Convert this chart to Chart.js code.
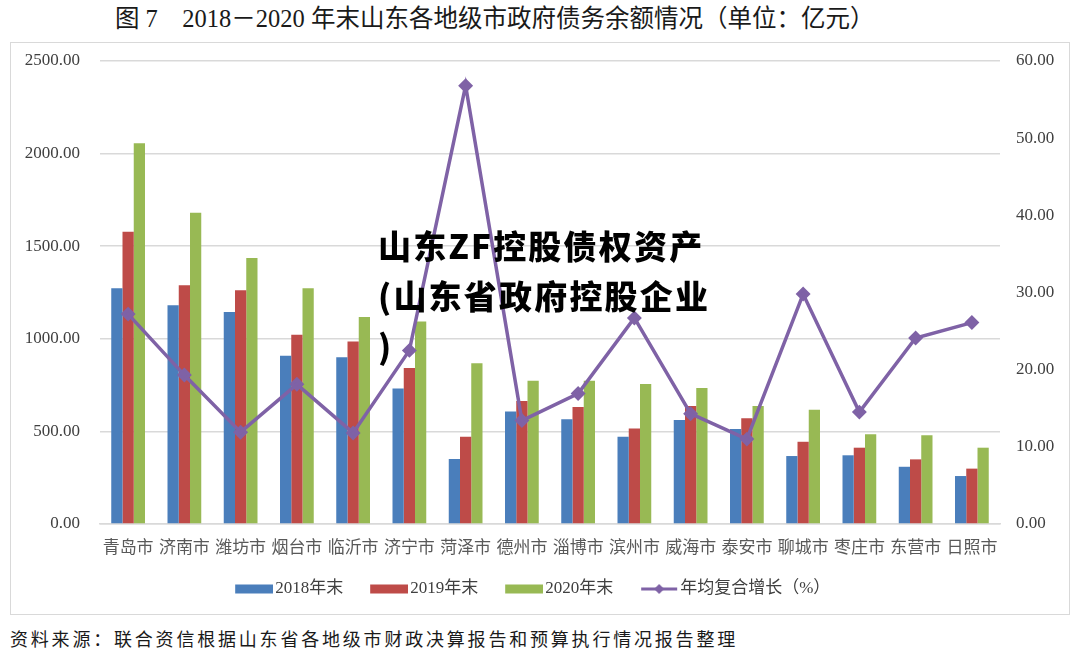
<!DOCTYPE html>
<html>
<head>
<meta charset="utf-8">
<script src="https://cdn.jsdelivr.net/npm/chart.js@4"></script>
<style>
  body { margin: 0; width: 1080px; height: 653px; background: #fff; position: relative; overflow: hidden; }
  .title { position: absolute; left: 115px; top: -1px; font: 24.5px "Liberation Serif", "Noto Sans CJK SC", serif; color: #1a1a1a; white-space: pre; }
  .box { position: absolute; left: 10px; top: 42px; width: 1060px; height: 573px; border: 1px solid #d9d9d9; box-sizing: border-box; }
  .mark { position: absolute; left: 378px; top: 220px; font: 900 33px "Noto Sans CJK SC", sans-serif; color: #000; line-height: 50px; letter-spacing: 2.2px; white-space: pre; }
  .note { position: absolute; left: 10px; top: 625px; font: 18px "Noto Sans CJK SC", serif; color: #1a1a1a; letter-spacing: 2.8px; white-space: pre; }
</style>
</head>
<body>
<div class="title">图 7　2018－2020 年末山东各地级市政府债务余额情况（单位：亿元）</div>
<div class="box"><canvas id="chart"></canvas></div>
<div class="mark">山东ZF控股债权资产
(山东省政府控股企业
)</div>
<div class="note">资料来源：联合资信根据山东省各地级市财政决算报告和预算执行情况报告整理</div>
<script>
const cities = ["青岛市", "济南市", "潍坊市", "烟台市", "临沂市", "济宁市", "菏泽市", "德州市",
  "淄博市", "滨州市", "威海市", "泰安市", "聊城市", "枣庄市", "东营市", "日照市"];
const debt2018 = [1273, 1181, 1145, 909, 900, 731, 351, 607, 565, 471, 562, 513, 367, 371, 309, 259];
const debt2019 = [1578, 1289, 1262, 1022, 986, 842, 471, 664, 632, 515, 637, 571, 444, 412, 349, 299];
const debt2020 = [2056, 1681, 1436, 1273, 1118, 1093, 868, 774, 774, 756, 734, 637, 617, 484, 479, 412];
const growth = [27.2, 19.3, 11.9, 18.1, 11.8, 22.5, 56.8, 13.4, 16.9, 26.7, 14.3, 11.0, 29.8, 14.5, 24.1, 26.1];

const BLUE = "#4a7ebb", RED = "#be4b48", GREEN = "#98b954", PURPLE = "#7f62a6";
const serif = "'Liberation Serif', 'Noto Sans CJK SC', serif";

// legend swatch image: transparent on the left, 38px mark on the right so it sits just before the text
function swatch(color, isLine) {
  const c = document.createElement("canvas");
  c.width = 54; c.height = 12;
  const g = c.getContext("2d");
  const x0 = 54 - 38;
  g.fillStyle = color;
  if (isLine) {
    g.strokeStyle = color; g.lineWidth = 3;
    g.beginPath(); g.moveTo(x0 + 1, 6); g.lineTo(x0 + 37, 6); g.stroke();
    g.beginPath(); g.moveTo(x0 + 19, 1); g.lineTo(x0 + 24, 6); g.lineTo(x0 + 19, 11); g.lineTo(x0 + 14, 6); g.closePath(); g.fill();
  } else {
    g.fillRect(x0, 1.5, 38, 9);
  }
  return c;
}

// nudge the legend row a bit left, like the original
const legendShift = {
  id: "legendShift",
  afterLayout(chart) {
    chart.legend.left -= 12;
    chart.legend.right -= 12;
  }
};

new Chart(document.getElementById("chart"), {
  type: "bar",
  data: {
    labels: cities,
    datasets: [
      { label: "2018年末", data: debt2018, backgroundColor: BLUE, yAxisID: "y", order: 1 },
      { label: "2019年末", data: debt2019, backgroundColor: RED, yAxisID: "y", order: 1 },
      { label: "2020年末", data: debt2020, backgroundColor: GREEN, yAxisID: "y", order: 1 },
      {
        label: "年均复合增长（%）", type: "line", data: growth, yAxisID: "y1", order: 0,
        borderColor: PURPLE, backgroundColor: PURPLE, borderWidth: 3.5, tension: 0,
        pointStyle: "rectRot", pointRadius: 5, pointHoverRadius: 5
      }
    ]
  },
  plugins: [legendShift],
  options: {
    responsive: true,
    maintainAspectRatio: false,
    animation: false,
    layout: { padding: { top: 18, left: 0, right: 0, bottom: 6.5 } },
    datasets: { bar: { categoryPercentage: 0.6, barPercentage: 1.0 } },
    plugins: {
      tooltip: { enabled: false },
      legend: {
        position: "bottom",
        labels: {
          usePointStyle: true,
          pointStyleWidth: 41,
          padding: 17.5,
          color: "#404040",
          font: { family: serif, size: 17 },
          generateLabels: (chart) => chart.data.datasets.map((ds, i) => ({
            text: ds.label,
            datasetIndex: i,
            fontColor: "#404040",
            lineWidth: 0,
            pointStyle: swatch(ds.backgroundColor, ds.type === "line")
          }))
        }
      }
    },
    scales: {
      x: {
        afterFit: (s) => { s.height = 39; },
        grid: { display: false, drawTicks: false },
        border: { display: true, color: "#d9d9d9", width: 1.5 },
        ticks: { color: "#595959", padding: 14, maxRotation: 0, autoSkip: false, font: { family: serif, size: 17 } }
      },
      y: {
        position: "left",
        min: 0, max: 2500,
        afterFit: (s) => { s.width = 89; s.paddingTop = 0; s.paddingBottom = 0; },
        grid: { color: "#d9d9d9", lineWidth: 1.5, drawTicks: false },
        border: { display: false },
        ticks: { stepSize: 500, padding: 20, color: "#404040", font: { family: serif, size: 17 },
          callback: (v) => v.toFixed(2) }
      },
      y1: {
        position: "right",
        min: 0, max: 60,
        afterFit: (s) => { s.width = 69; s.paddingTop = 0; s.paddingBottom = 0; },
        grid: { display: false, drawTicks: false },
        border: { display: false },
        ticks: { stepSize: 10, padding: 16, color: "#404040", font: { family: serif, size: 17 },
          callback: (v) => v.toFixed(2) }
      }
    }
  }
});
</script>
</body>
</html>
